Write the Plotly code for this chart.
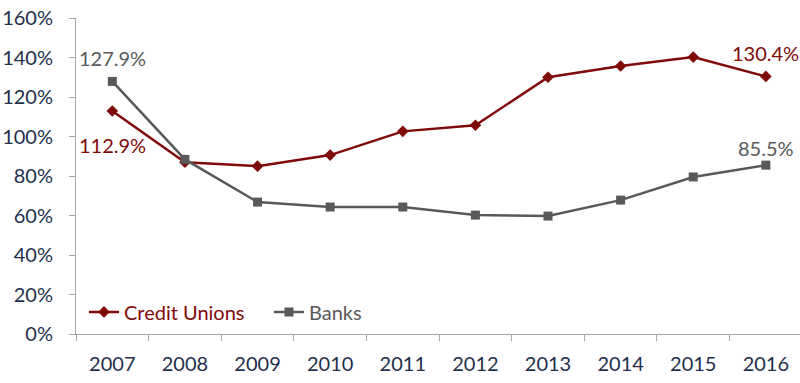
import plotly.graph_objects as go

years = ["2007", "2008", "2009", "2010", "2011", "2012", "2013", "2014", "2015", "2016"]
credit_unions = [112.9, 87.0, 85.0, 90.6, 102.6, 105.7, 130.0, 135.7, 140.2, 130.4]
banks = [127.9, 88.4, 66.8, 64.3, 64.3, 60.2, 59.7, 67.8, 79.5, 85.5]
y_ticks = [0, 20, 40, 60, 80, 100, 120, 140, 160]

RED = "#7F0A0A"
GREY = "#595959"
NAVY = "#1F2F4B"
FONT = "Lato"

fig = go.Figure()
fig.add_trace(go.Scatter(
    x=years, y=credit_unions, mode="lines+markers",
    name=f"<span style='color:{RED}'>Credit Unions</span>",
    line=dict(color=RED, width=2.5),
    marker=dict(symbol="diamond", size=9, color=RED),
))
fig.add_trace(go.Scatter(
    x=years, y=banks, mode="lines+markers",
    name=f"<span style='color:{GREY}'>Banks</span>",
    line=dict(color=GREY, width=2.5),
    marker=dict(symbol="square", size=9, color=GREY),
))

labels = [
    (0, banks[0], GREY, 23),
    (0, credit_unions[0], RED, -34),
    (9, credit_unions[9], RED, 23),
    (9, banks[9], GREY, 17),
]
for i, v, c, shift in labels:
    fig.add_annotation(x=i, y=v, xref="x", yref="y", text=f"{v:.1f}%",
                       showarrow=False, yshift=shift, yanchor="middle",
                       font=dict(family=FONT, size=20, color=c))

fig.update_layout(
    width=800, height=383,
    margin=dict(l=76, r=0, t=18, b=49),
    paper_bgcolor="white", plot_bgcolor="white",
    font=dict(family=FONT, size=20, color=NAVY),
    showlegend=True,
    legend=dict(orientation="h", x=0.011, y=0.07, xanchor="left", yanchor="middle",
                font=dict(family=FONT, size=20), bgcolor="rgba(0,0,0,0)",
                itemwidth=30, entrywidth=140),
    xaxis=dict(type="category", range=[-0.5, 9.47], showgrid=False, showline=True,
               linecolor="#A6A6A6", linewidth=1, ticks="outside",
               tickson="boundaries", ticklen=6, tickcolor="#A6A6A6",
               automargin=False, ticklabelstandoff=12,
               tickfont=dict(family=FONT, size=20, color=NAVY)),
    yaxis=dict(range=[0, 160], tickvals=y_ticks,
               ticktext=[f"{t}%" for t in y_ticks], showgrid=False,
               showline=True, linecolor="#A6A6A6", linewidth=1,
               ticks="outside", ticklen=6, tickcolor="#A6A6A6", zeroline=False,
               automargin=False, ticklabelstandoff=12,
               tickfont=dict(family=FONT, size=20, color=NAVY)),
)

fig.write_html("out.html", config={"displayModeBar": False},
               post_script="document.body.style.margin='0';")
